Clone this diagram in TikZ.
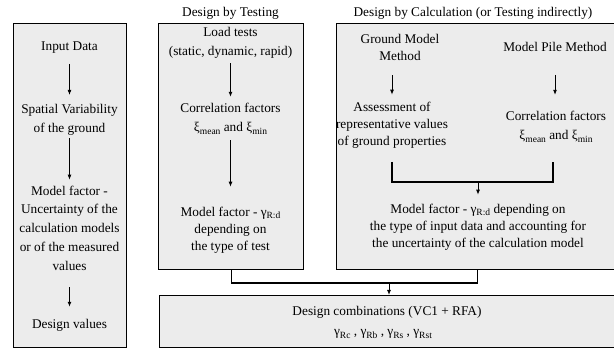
\documentclass[tikz,border=0pt]{standalone}
\usepackage{fontspec}
\setmainfont{Liberation Serif}
\usetikzlibrary{arrows.meta}
\definecolor{panelgray}{HTML}{ECECEC}
% lowered small subscript for the Greek factor symbols
\newcommand{\lsub}[1]{\raisebox{-0.45ex}{\fontsize{9.5}{9.5}\selectfont #1}}
\begin{document}
\begin{tikzpicture}[x=1pt,y=-1pt,
  panel/.style={draw=black, line width=1.2pt, fill=panelgray, anchor=north west, inner sep=0pt},
  txt/.style={align=center, font=\fontsize{13.3}{18.7}\selectfont, inner sep=0pt},
  txtc/.style={align=center, font=\fontsize{13.3}{17}\selectfont, inner sep=0pt},
  arr/.style={-{Latex[length=5pt,width=4pt]}, line width=0.9pt},
  link/.style={line width=1.2pt}]
\useasboundingbox (0,0) rectangle (614,350);

% panels
\node[panel, minimum width=113pt, minimum height=324pt] (lbox) at (13,23) {};
\node[panel, minimum width=145pt, minimum height=246pt] (tbox) at (158,23) {};
\node[panel, minimum width=282pt, minimum height=246pt] (cbox) at (336,23) {};
\node[panel, minimum width=459pt, minimum height=52pt] (dbox) at (159,295) {};

% panel titles
\node[txt] (ttest) at (230.5,13) {Design by Testing};
\node[txt] (tcalc) at (473,13) {Design by Calculation (or Testing indirectly)};

% left column
\node[txt] (input) at (69.5,48) {Input Data};
\node[txt] (spat) at (69.5,119.5) {Spatial Variability\\of the ground};
\node[txt] (unc) at (69.5,228) {Model factor -\\Uncertainty of the\\calculation models\\or of the measured\\values};
\node[txt] (dval) at (69.5,325) {Design values};
\draw[arr, shorten <=10pt, shorten >=9pt] (input) -- (spat);
\draw[arr, shorten <=3pt, shorten >=6pt] (spat) -- (unc);
\draw[arr, shorten <=17pt, shorten >=12pt] (unc) -- (dval);

% design by testing
\node[txt] (load) at (230.5,42.5) {Load tests\\(static, dynamic, rapid)};
\node[txt] (corrt) at (230.5,119) {Correlation factors\\ξ\lsub{mean} and ξ\lsub{min}};
\node[txtc] (mft) at (230.5,230) {Model factor - γ\lsub{R:d}\\depending on\\the type of test};
\draw[arr, shorten <=5pt, shorten >=6.5pt] (load) -- (corrt);
\draw[arr, shorten <=5.5pt, shorten >=20pt] (corrt) -- (mft);

% design by calculation
\node[txtc] (gmm) at (400,47) {Ground Model\\Method};
\node[txt] (mpm) at (555,47) {Model Pile Method};
\node[txtc] (asm) at (392,125) {Assessment of\\representative values\\of ground properties};
\node[txt] (corrc) at (556,127) {Correlation factors\\ξ\lsub{mean} and ξ\lsub{min}};
\node[txtc] (mfc) at (478,227) {Model factor - γ\lsub{R:d} depending on\\the type of input data and accounting for\\the uncertainty of the calculation model};
\draw[arr, shorten <=15pt, shorten >=7pt] (asm.north |- gmm.south) -- (asm.north);
\draw[arr, shorten <=23pt, shorten >=16.5pt] (mpm.south) -- (mpm.south |- corrc.north);

\coordinate (brL) at (392,162);
\coordinate (brR) at (553,162);
\coordinate (brJ) at (478,182);
\draw[link] (brL) |- (brJ) -| (brR);
\draw[arr, shorten >=9pt] (brJ) -- (brJ |- mfc.north);

% design combinations
\node[txt] (dc) at (387,312) {Design combinations (VC1 + RFA)};
\node[txt] (gam) at (383,334) {γ\lsub{Rc} , γ\lsub{Rb} , γ\lsub{Rs} , γ\lsub{Rst}};

\coordinate (jn) at (389,283);
\draw[link] (tbox.south) |- (jn) -| (cbox.south);
\draw[arr] (jn) -- (jn |- dbox.north);
\end{tikzpicture}
\end{document}
